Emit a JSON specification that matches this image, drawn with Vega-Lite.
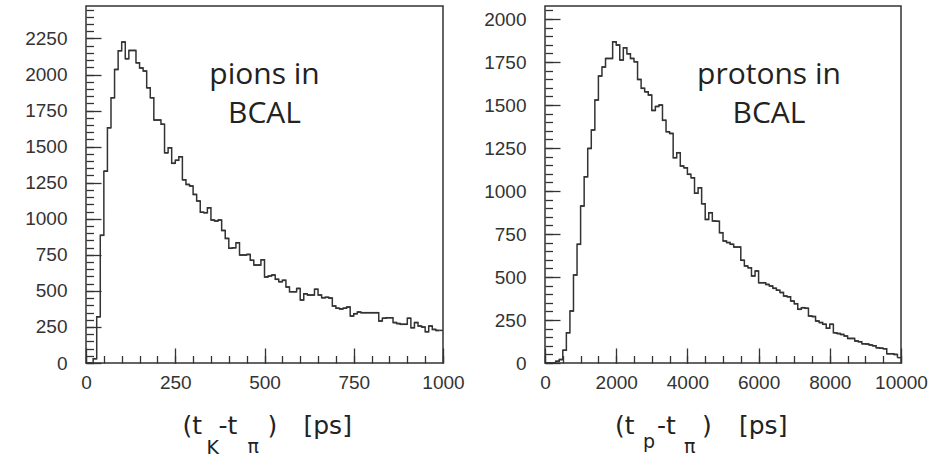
{
  "$schema": "https://vega.github.io/schema/vega-lite/v6.json",
  "padding": {"left": 23, "top": 5, "right": 5, "bottom": 0},
  "background": "white",
  "config": {
    "view": {"stroke": "#333", "strokeWidth": 1.5},
    "axis": {"labelFont": "Liberation Sans", "labelFontSize": 19, "labelColor": "#333", "tickColor": "#333", "tickWidth": 1.3, "domain": false, "grid": false, "labelFlush": false, "labelOverlap": false, "format": "d"},
    "text": {"font": "DejaVu Sans", "color": "#222"}
  },
  "spacing": 102,
  "bounds": "flush",
  "hconcat": [
    {
      "width": 357,
      "height": 357,
      "data": {"values": [
        {"t0":0,"t1":10,"n":0},{"t0":10,"t1":20,"n":0},{"t0":20,"t1":30,"n":30},{"t0":30,"t1":40,"n":320},{"t0":40,"t1":50,"n":885},
        {"t0":50,"t1":60,"n":1330},{"t0":60,"t1":70,"n":1631},{"t0":70,"t1":80,"n":1839},{"t0":80,"t1":90,"n":2035},{"t0":90,"t1":100,"n":2165},
        {"t0":100,"t1":110,"n":2225},{"t0":110,"t1":120,"n":2110},{"t0":120,"t1":130,"n":2167},{"t0":130,"t1":140,"n":2167},{"t0":140,"t1":150,"n":2081},
        {"t0":150,"t1":160,"n":2046},{"t0":160,"t1":170,"n":2024},{"t0":170,"t1":180,"n":1908},{"t0":180,"t1":190,"n":1839},{"t0":190,"t1":200,"n":1684},
        {"t0":200,"t1":210,"n":1684},{"t0":210,"t1":220,"n":1655},{"t0":220,"t1":230,"n":1457},{"t0":230,"t1":240,"n":1492},{"t0":240,"t1":250,"n":1384},
        {"t0":250,"t1":260,"n":1405},{"t0":260,"t1":270,"n":1430},{"t0":270,"t1":280,"n":1270},{"t0":280,"t1":290,"n":1238},{"t0":290,"t1":300,"n":1227},
        {"t0":300,"t1":310,"n":1169},{"t0":310,"t1":320,"n":1123},{"t0":320,"t1":330,"n":1045},{"t0":330,"t1":340,"n":1042},{"t0":340,"t1":350,"n":1076},
        {"t0":350,"t1":360,"n":991},{"t0":360,"t1":370,"n":984},{"t0":370,"t1":380,"n":991},{"t0":380,"t1":390,"n":919},{"t0":390,"t1":400,"n":864},
        {"t0":400,"t1":410,"n":795},{"t0":410,"t1":420,"n":799},{"t0":420,"t1":430,"n":834},{"t0":430,"t1":440,"n":748},{"t0":440,"t1":450,"n":748},
        {"t0":450,"t1":460,"n":753},{"t0":460,"t1":470,"n":712},{"t0":470,"t1":480,"n":679},{"t0":480,"t1":490,"n":679},{"t0":490,"t1":500,"n":716},
        {"t0":500,"t1":510,"n":596},{"t0":510,"t1":520,"n":603},{"t0":520,"t1":530,"n":610},{"t0":530,"t1":540,"n":580},{"t0":540,"t1":550,"n":564},
        {"t0":550,"t1":560,"n":573},{"t0":560,"t1":570,"n":527},{"t0":570,"t1":580,"n":494},{"t0":580,"t1":590,"n":494},{"t0":590,"t1":600,"n":517},
        {"t0":600,"t1":610,"n":437},{"t0":610,"t1":620,"n":480},{"t0":620,"t1":630,"n":471},{"t0":630,"t1":640,"n":471},{"t0":640,"t1":650,"n":511},
        {"t0":650,"t1":660,"n":471},{"t0":660,"t1":670,"n":453},{"t0":670,"t1":680,"n":455},{"t0":680,"t1":690,"n":450},{"t0":690,"t1":700,"n":395},
        {"t0":700,"t1":710,"n":380},{"t0":710,"t1":720,"n":375},{"t0":720,"t1":730,"n":380},{"t0":730,"t1":740,"n":388},{"t0":740,"t1":750,"n":326},
        {"t0":750,"t1":760,"n":342},{"t0":760,"t1":770,"n":353},{"t0":770,"t1":780,"n":349},{"t0":780,"t1":790,"n":349},{"t0":790,"t1":800,"n":349},
        {"t0":800,"t1":810,"n":349},{"t0":810,"t1":820,"n":349},{"t0":820,"t1":830,"n":291},{"t0":830,"t1":840,"n":310},{"t0":840,"t1":850,"n":314},
        {"t0":850,"t1":860,"n":314},{"t0":860,"t1":870,"n":280},{"t0":870,"t1":880,"n":273},{"t0":880,"t1":890,"n":268},{"t0":890,"t1":900,"n":268},
        {"t0":900,"t1":910,"n":310},{"t0":910,"t1":920,"n":245},{"t0":920,"t1":930,"n":280},{"t0":930,"t1":940,"n":256},{"t0":940,"t1":950,"n":249},
        {"t0":950,"t1":960,"n":217},{"t0":960,"t1":970,"n":256},{"t0":970,"t1":980,"n":233},{"t0":980,"t1":990,"n":226},{"t0":990,"t1":1000,"n":226}
      ]},
      "resolve": {"axis": {"x": "independent", "y": "independent"}},
      "layer": [
        {
          "mark": {"type": "line", "interpolate": "step-after", "color": "#333", "strokeWidth": 1.5},
          "encoding": {
            "x": {"field": "t0", "type": "quantitative", "scale": {"domain": [0, 1000], "nice": false, "zero": false},
                  "axis": {"orient": "bottom", "values": [0, 250, 500, 750, 1000], "tickSize": -15, "labelPadding": 25, "title": null}},
            "y": {"field": "n", "type": "quantitative", "scale": {"domain": [0, 2475], "nice": false},
                  "axis": {"orient": "left", "values": [0, 250, 500, 750, 1000, 1250, 1500, 1750, 2000, 2250], "tickSize": -15, "labelPadding": 34, "title": null}}
          }
        },
        {
          "mark": {"type": "rule", "color": "#333", "strokeWidth": 1.5},
          "encoding": {
            "x": {"field": "t0", "type": "quantitative",
                  "axis": {"orient": "bottom", "values": [0,50,100,150,200,250,300,350,400,450,500,550,600,650,700,750,800,850,900,950,1000], "tickSize": -7.5, "labels": false, "title": null}},
            "x2": {"field": "t1"},
            "y": {"field": "n", "type": "quantitative",
                  "axis": {"orient": "left", "values": [0,50,100,150,200,250,300,350,400,450,500,550,600,650,700,750,800,850,900,950,1000,1050,1100,1150,1200,1250,1300,1350,1400,1450,1500,1550,1600,1650,1700,1750,1800,1850,1900,1950,2000,2050,2100,2150,2200,2250,2300,2350,2400,2450], "tickSize": -7.5, "labels": false, "title": null}}
          }
        },
        {
          "data": {"values": [{"s": "pions in\nBCAL"}]},
          "mark": {"type": "text", "align": "center", "baseline": "alphabetic", "font": "Open Sans", "fontSize": 30, "lineBreak": "\n", "lineHeight": 39},
          "encoding": {"x": {"datum": 500, "type": "quantitative", "axis": null}, "y": {"datum": 1933, "type": "quantitative", "axis": null}, "text": {"field": "s"}}
        },
        {
          "data": {"values": [{"s": "(t"}]},
          "mark": {"type": "text", "align": "left", "baseline": "alphabetic", "fontSize": 25, "dx": -82, "dy": 71},
          "encoding": {"x": {"datum": 500, "type": "quantitative", "axis": null}, "y": {"datum": 0, "type": "quantitative", "axis": null}, "text": {"field": "s"}}
        },
        {
          "data": {"values": [{"s": "K"}]},
          "mark": {"type": "text", "align": "left", "baseline": "alphabetic", "fontSize": 19, "dx": -58, "dy": 91},
          "encoding": {"x": {"datum": 500, "type": "quantitative", "axis": null}, "y": {"datum": 0, "type": "quantitative", "axis": null}, "text": {"field": "s"}}
        },
        {
          "data": {"values": [{"s": "-t"}]},
          "mark": {"type": "text", "align": "left", "baseline": "alphabetic", "fontSize": 25, "dx": -46, "dy": 71},
          "encoding": {"x": {"datum": 500, "type": "quantitative", "axis": null}, "y": {"datum": 0, "type": "quantitative", "axis": null}, "text": {"field": "s"}}
        },
        {
          "data": {"values": [{"s": "π"}]},
          "mark": {"type": "text", "align": "left", "baseline": "alphabetic", "fontSize": 19, "dx": -17, "dy": 90},
          "encoding": {"x": {"datum": 500, "type": "quantitative", "axis": null}, "y": {"datum": 0, "type": "quantitative", "axis": null}, "text": {"field": "s"}}
        },
        {
          "data": {"values": [{"s": ")"}]},
          "mark": {"type": "text", "align": "left", "baseline": "alphabetic", "fontSize": 25, "dx": 3, "dy": 71},
          "encoding": {"x": {"datum": 500, "type": "quantitative", "axis": null}, "y": {"datum": 0, "type": "quantitative", "axis": null}, "text": {"field": "s"}}
        },
        {
          "data": {"values": [{"s": "[ps]"}]},
          "mark": {"type": "text", "align": "left", "baseline": "alphabetic", "fontSize": 25, "dx": 39, "dy": 71},
          "encoding": {"x": {"datum": 500, "type": "quantitative", "axis": null}, "y": {"datum": 0, "type": "quantitative", "axis": null}, "text": {"field": "s"}}
        }
      ]
    },
    {
      "width": 356,
      "height": 357,
      "data": {"values": [
        {"t0":0,"t1":100,"n":0},{"t0":100,"t1":200,"n":0},{"t0":200,"t1":300,"n":0},{"t0":300,"t1":400,"n":10},{"t0":400,"t1":500,"n":20},
        {"t0":500,"t1":600,"n":74},{"t0":600,"t1":700,"n":176},{"t0":700,"t1":800,"n":302},{"t0":800,"t1":900,"n":512},{"t0":900,"t1":1000,"n":690},
        {"t0":1000,"t1":1100,"n":913},{"t0":1100,"t1":1200,"n":1083},{"t0":1200,"t1":1300,"n":1248},{"t0":1300,"t1":1400,"n":1355},{"t0":1400,"t1":1500,"n":1529},
        {"t0":1500,"t1":1600,"n":1669},{"t0":1600,"t1":1700,"n":1721},{"t0":1700,"t1":1800,"n":1771},{"t0":1800,"t1":1900,"n":1771},{"t0":1900,"t1":2000,"n":1868},
        {"t0":2000,"t1":2100,"n":1849},{"t0":2100,"t1":2200,"n":1762},{"t0":2200,"t1":2300,"n":1833},{"t0":2300,"t1":2400,"n":1798},{"t0":2400,"t1":2500,"n":1771},
        {"t0":2500,"t1":2600,"n":1752},{"t0":2600,"t1":2700,"n":1649},{"t0":2700,"t1":2800,"n":1597},{"t0":2800,"t1":2900,"n":1577},{"t0":2900,"t1":3000,"n":1558},
        {"t0":3000,"t1":3100,"n":1469},{"t0":3100,"t1":3200,"n":1492},{"t0":3200,"t1":3300,"n":1500},{"t0":3300,"t1":3400,"n":1411},{"t0":3400,"t1":3500,"n":1345},
        {"t0":3500,"t1":3600,"n":1335},{"t0":3600,"t1":3700,"n":1194},{"t0":3700,"t1":3800,"n":1223},{"t0":3800,"t1":3900,"n":1145},{"t0":3900,"t1":4000,"n":1135},
        {"t0":4000,"t1":4100,"n":1097},{"t0":4100,"t1":4200,"n":1077},{"t0":4200,"t1":4300,"n":987},{"t0":4300,"t1":4400,"n":1019},{"t0":4400,"t1":4500,"n":926},
        {"t0":4500,"t1":4600,"n":835},{"t0":4600,"t1":4700,"n":874},{"t0":4700,"t1":4800,"n":826},{"t0":4800,"t1":4900,"n":824},{"t0":4900,"t1":5000,"n":758},
        {"t0":5000,"t1":5100,"n":709},{"t0":5100,"t1":5200,"n":700},{"t0":5200,"t1":5300,"n":690},{"t0":5300,"t1":5400,"n":674},{"t0":5400,"t1":5500,"n":674},
        {"t0":5500,"t1":5600,"n":597},{"t0":5600,"t1":5700,"n":564},{"t0":5700,"t1":5800,"n":554},{"t0":5800,"t1":5900,"n":506},{"t0":5900,"t1":6000,"n":535},
        {"t0":6000,"t1":6100,"n":467},{"t0":6100,"t1":6200,"n":467},{"t0":6200,"t1":6300,"n":457},{"t0":6300,"t1":6400,"n":448},{"t0":6400,"t1":6500,"n":434},
        {"t0":6500,"t1":6600,"n":423},{"t0":6600,"t1":6700,"n":410},{"t0":6700,"t1":6800,"n":389},{"t0":6800,"t1":6900,"n":385},{"t0":6900,"t1":7000,"n":360},
        {"t0":7000,"t1":7100,"n":345},{"t0":7100,"t1":7200,"n":312},{"t0":7200,"t1":7300,"n":322},{"t0":7300,"t1":7400,"n":318},{"t0":7400,"t1":7500,"n":273},
        {"t0":7500,"t1":7600,"n":270},{"t0":7600,"t1":7700,"n":244},{"t0":7700,"t1":7800,"n":235},{"t0":7800,"t1":7900,"n":225},{"t0":7900,"t1":8000,"n":202},
        {"t0":8000,"t1":8100,"n":225},{"t0":8100,"t1":8200,"n":176},{"t0":8200,"t1":8300,"n":171},{"t0":8300,"t1":8400,"n":166},{"t0":8400,"t1":8500,"n":157},
        {"t0":8500,"t1":8600,"n":143},{"t0":8600,"t1":8700,"n":143},{"t0":8700,"t1":8800,"n":128},{"t0":8800,"t1":8900,"n":124},{"t0":8900,"t1":9000,"n":112},
        {"t0":9000,"t1":9100,"n":110},{"t0":9100,"t1":9200,"n":105},{"t0":9200,"t1":9300,"n":100},{"t0":9300,"t1":9400,"n":89},{"t0":9400,"t1":9500,"n":86},
        {"t0":9500,"t1":9600,"n":83},{"t0":9600,"t1":9700,"n":54},{"t0":9700,"t1":9800,"n":54},{"t0":9800,"t1":9900,"n":50},{"t0":9900,"t1":10000,"n":31}
      ]},
      "resolve": {"axis": {"x": "independent", "y": "independent"}},
      "layer": [
        {
          "mark": {"type": "line", "interpolate": "step-after", "color": "#333", "strokeWidth": 1.5},
          "encoding": {
            "x": {"field": "t0", "type": "quantitative", "scale": {"domain": [0, 10000], "nice": false, "zero": false},
                  "axis": {"orient": "bottom", "values": [0, 2000, 4000, 6000, 8000, 10000], "tickSize": -15, "labelPadding": 25, "title": null}},
            "y": {"field": "n", "type": "quantitative", "scale": {"domain": [0, 2076], "nice": false},
                  "axis": {"orient": "left", "values": [0, 250, 500, 750, 1000, 1250, 1500, 1750, 2000], "tickSize": -15, "labelPadding": 34, "title": null}}
          }
        },
        {
          "mark": {"type": "rule", "color": "#333", "strokeWidth": 1.5},
          "encoding": {
            "x": {"field": "t0", "type": "quantitative",
                  "axis": {"orient": "bottom", "values": [0,500,1000,1500,2000,2500,3000,3500,4000,4500,5000,5500,6000,6500,7000,7500,8000,8500,9000,9500,10000], "tickSize": -7.5, "labels": false, "title": null}},
            "x2": {"field": "t1"},
            "y": {"field": "n", "type": "quantitative",
                  "axis": {"orient": "left", "values": [0,50,100,150,200,250,300,350,400,450,500,550,600,650,700,750,800,850,900,950,1000,1050,1100,1150,1200,1250,1300,1350,1400,1450,1500,1550,1600,1650,1700,1750,1800,1850,1900,1950,2000,2050], "tickSize": -7.5, "labels": false, "title": null}}
          }
        },
        {
          "data": {"values": [{"s": "protons in\nBCAL"}]},
          "mark": {"type": "text", "align": "center", "baseline": "alphabetic", "font": "Open Sans", "fontSize": 30, "lineBreak": "\n", "lineHeight": 39},
          "encoding": {"x": {"datum": 6292, "type": "quantitative", "axis": null}, "y": {"datum": 1622, "type": "quantitative", "axis": null}, "text": {"field": "s"}}
        },
        {
          "data": {"values": [{"s": "(t"}]},
          "mark": {"type": "text", "align": "left", "baseline": "alphabetic", "fontSize": 25, "dx": -108, "dy": 71},
          "encoding": {"x": {"datum": 5000, "type": "quantitative", "axis": null}, "y": {"datum": 0, "type": "quantitative", "axis": null}, "text": {"field": "s"}}
        },
        {
          "data": {"values": [{"s": "p"}]},
          "mark": {"type": "text", "align": "left", "baseline": "alphabetic", "fontSize": 19, "dx": -80, "dy": 85},
          "encoding": {"x": {"datum": 5000, "type": "quantitative", "axis": null}, "y": {"datum": 0, "type": "quantitative", "axis": null}, "text": {"field": "s"}}
        },
        {
          "data": {"values": [{"s": "-t"}]},
          "mark": {"type": "text", "align": "left", "baseline": "alphabetic", "fontSize": 25, "dx": -66, "dy": 71},
          "encoding": {"x": {"datum": 5000, "type": "quantitative", "axis": null}, "y": {"datum": 0, "type": "quantitative", "axis": null}, "text": {"field": "s"}}
        },
        {
          "data": {"values": [{"s": "π"}]},
          "mark": {"type": "text", "align": "left", "baseline": "alphabetic", "fontSize": 19, "dx": -39, "dy": 90},
          "encoding": {"x": {"datum": 5000, "type": "quantitative", "axis": null}, "y": {"datum": 0, "type": "quantitative", "axis": null}, "text": {"field": "s"}}
        },
        {
          "data": {"values": [{"s": ")"}]},
          "mark": {"type": "text", "align": "left", "baseline": "alphabetic", "fontSize": 25, "dx": -21, "dy": 71},
          "encoding": {"x": {"datum": 5000, "type": "quantitative", "axis": null}, "y": {"datum": 0, "type": "quantitative", "axis": null}, "text": {"field": "s"}}
        },
        {
          "data": {"values": [{"s": "[ps]"}]},
          "mark": {"type": "text", "align": "left", "baseline": "alphabetic", "fontSize": 25, "dx": 16, "dy": 71},
          "encoding": {"x": {"datum": 5000, "type": "quantitative", "axis": null}, "y": {"datum": 0, "type": "quantitative", "axis": null}, "text": {"field": "s"}}
        }
      ]
    }
  ]
}
